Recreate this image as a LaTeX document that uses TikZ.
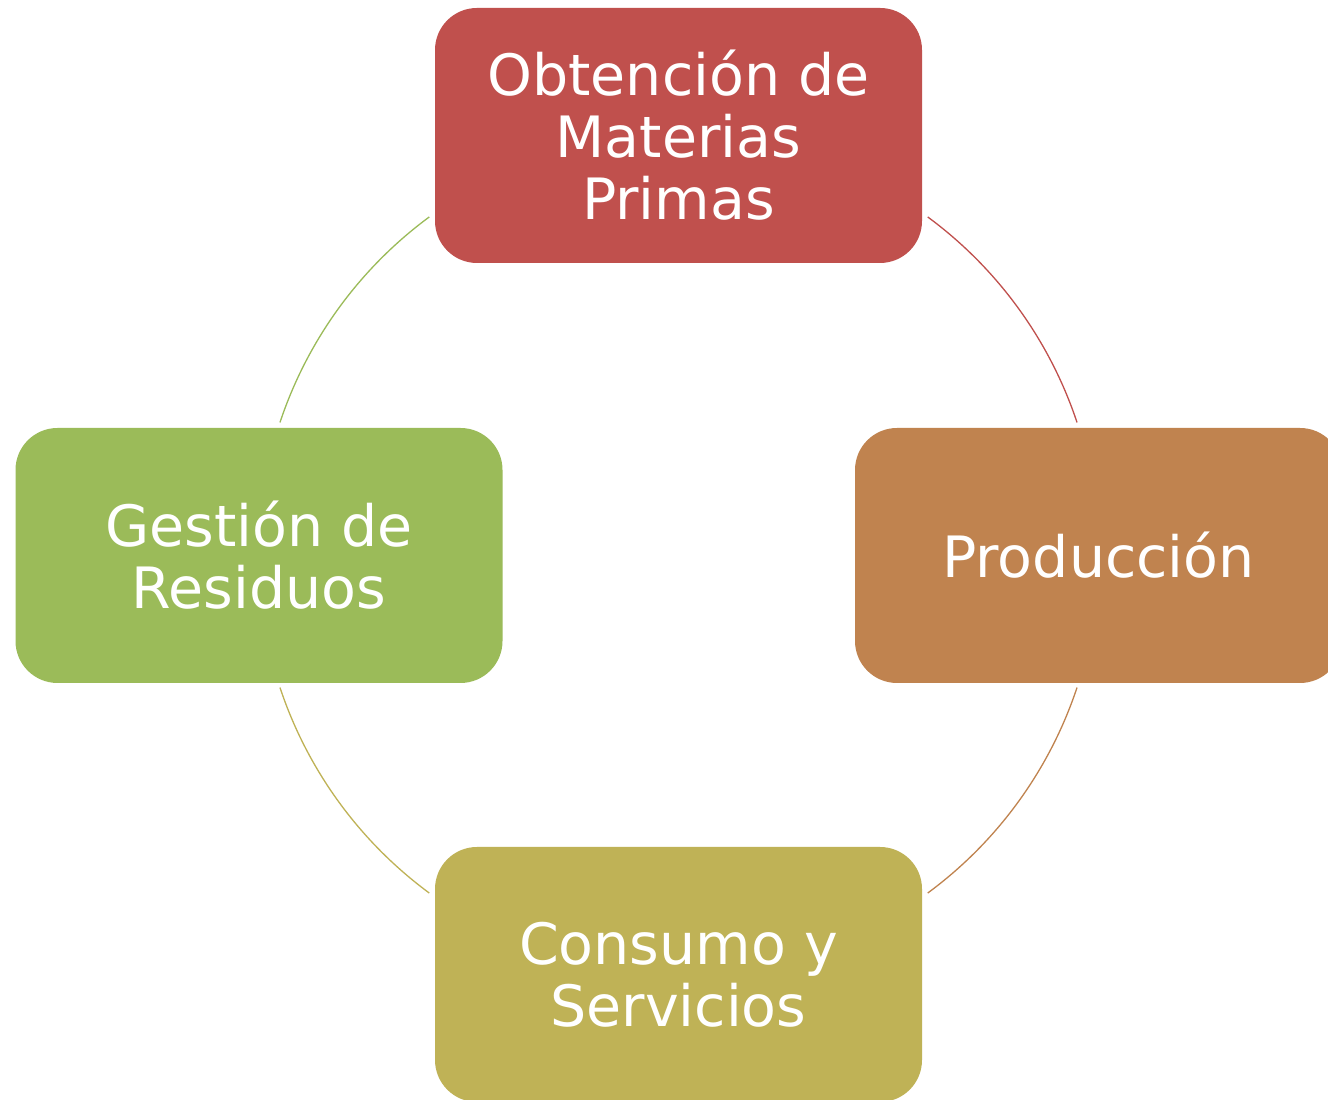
\documentclass[tikz,border=0pt]{standalone}
\usepackage{fontspec}
\setmainfont{DejaVu Sans}
\usetikzlibrary{calc}
\definecolor{cred}{HTML}{C0504D}
\definecolor{corange}{HTML}{C0834F}
\definecolor{cgreen}{HTML}{9BBB59}
\definecolor{colive}{HTML}{BFB256}
\tikzset{
  stagebox/.style={rectangle, rounded corners=42pt, minimum width=487pt, minimum height=255pt,
    inner sep=0pt, text=white, align=center, font=\fontsize{57}{62}\selectfont},
  ring/.style={line width=1.3pt}
}
\begin{document}
\begin{tikzpicture}[x=1pt,y=1pt]
\useasboundingbox (0,0) rectangle (1328,1100);
\clip (0,0) rectangle (1328,1100);
\fill[white] (0,0) rectangle (1328,1100);
\node[stagebox, fill=cred] (top) at (678.5,964.5) {Obtención de\\Materias\\Primas};
\node[stagebox, fill=corange] (right) at (1098.5,544.5) {Producción};
\node[stagebox, fill=colive] (bottom) at (678.5,125.5) {Consumo y\\Servicios};
\node[stagebox, fill=cgreen] (left) at (259,544.5) {Gestión de\\Residuos};
\coordinate (ctr) at (678.5,545);
\coordinate (a1) at ($(ctr)+(53.6:420)$);
\coordinate (a2) at ($(ctr)+(-18.4:420)$);
\coordinate (a3) at ($(ctr)+(-126.4:420)$);
\coordinate (a4) at ($(ctr)+(161.6:420)$);
\draw[ring, cred] (a1) arc[start angle=53.6, end angle=18.4, radius=420];
\draw[ring, corange] (a2) arc[start angle=-18.4, end angle=-53.6, radius=420];
\draw[ring, colive] (a3) arc[start angle=-126.4, end angle=-161.6, radius=420];
\draw[ring, cgreen] (a4) arc[start angle=161.6, end angle=126.4, radius=420];
\end{tikzpicture}
\end{document}
